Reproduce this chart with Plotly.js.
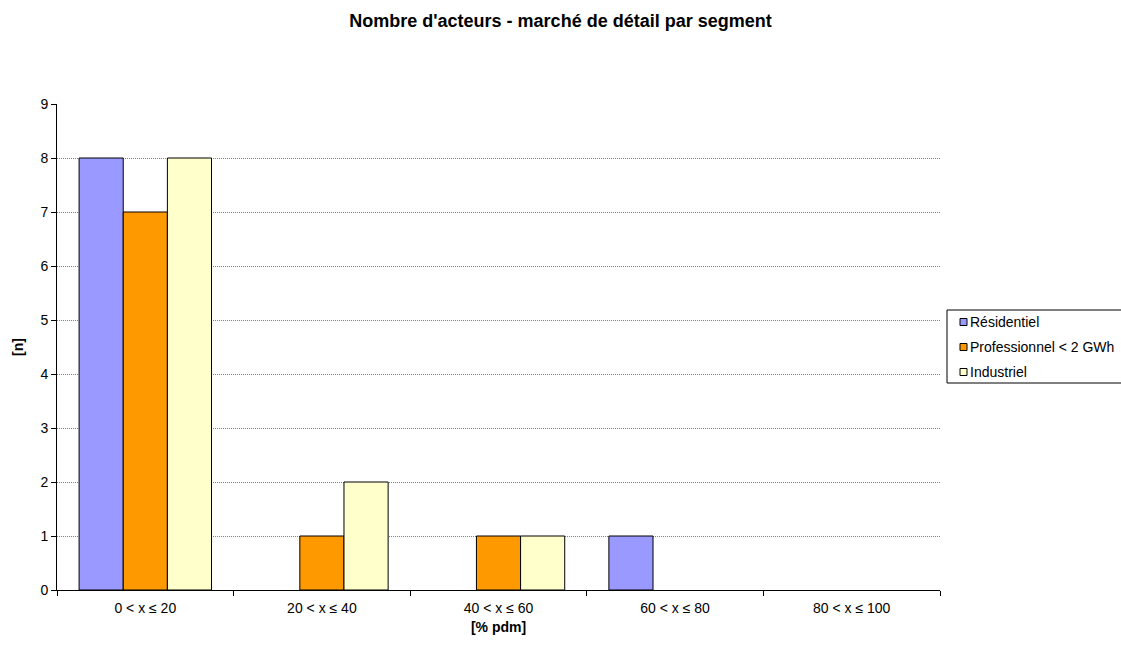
<!DOCTYPE html>
<html>
<head>
<meta charset="utf-8">
<script src="https://cdn.plot.ly/plotly-3.0.1.min.js"></script>
<style>
  html, body { margin: 0; padding: 0; background: #fff; }
  #chart { width: 1121px; height: 647px; }
</style>
</head>
<body>
<div id="chart"></div>
<script>
// Market-share bands (x categories)
const categories = ['0 < x ≤ 20', '20 < x ≤ 40', '40 < x ≤ 60', '60 < x ≤ 80', '80 < x ≤ 100'];

// Number of suppliers per band, per customer segment
const residentiel = [8, 0, 0, 1, 0];
const professionnel = [7, 1, 1, 0, 0];
const industriel = [8, 2, 1, 0, 0];

const seriesNames = ['Résidentiel', 'Professionnel < 2 GWh', 'Industriel'];
const seriesColors = ['#9999FF', '#FF9900', '#FFFFCC'];
const seriesValues = [residentiel, professionnel, industriel];

const font = 'Liberation Sans, Arial, sans-serif';

// Plot area in pixels, used to place the hand-drawn legend box
const W = 1121, H = 647;
const M = { l: 57, r: 181, t: 104, b: 57 };
const plotW = W - M.l - M.r, plotH = H - M.t - M.b;
const px = p => (p - M.l) / plotW;
const py = p => (H - M.b - p) / plotH;

const traces = seriesValues.map((vals, i) => ({
  type: 'bar',
  name: seriesNames[i],
  x: categories,
  y: vals,
  marker: {
    color: seriesColors[i],
    // empty bars get no outline so nothing shows on the axis
    line: { color: '#000', width: vals.map(v => (v > 0 ? 1 : 0)) }
  },
  hoverinfo: 'x+y+name'
}));

// Legend: framed box with small square keys
const legLeft = 947, legTop = 310, legBottom = 383;
const rowY = [322, 347, 372];
const shapes = [{
  type: 'rect', xref: 'paper', yref: 'paper',
  x0: px(legLeft), x1: px(W + 5), y0: py(legBottom), y1: py(legTop),
  line: { color: '#000', width: 1 }, fillcolor: '#fff', layer: 'above'
}];
const annotations = [];
seriesNames.forEach((name, i) => {
  shapes.push({
    type: 'rect', xref: 'paper', yref: 'paper',
    x0: px(960), x1: px(967), y0: py(rowY[i] + 3.5), y1: py(rowY[i] - 3.5),
    line: { color: '#000', width: 1 }, fillcolor: seriesColors[i], layer: 'above'
  });
  annotations.push({
    xref: 'paper', yref: 'paper', x: px(968), y: py(rowY[i]),
    xanchor: 'left', yanchor: 'middle', showarrow: false,
    text: name, font: { family: font, size: 14, color: '#000' }
  });
});

const layout = {
  width: W,
  height: H,
  paper_bgcolor: '#fff',
  plot_bgcolor: '#fff',
  margin: { l: M.l, r: M.r, t: M.t, b: M.b, pad: 0 },
  font: { family: font, size: 14, color: '#000' },
  title: {
    text: "<b>Nombre d'acteurs - marché de détail par segment</b>",
    font: { family: font, size: 18, color: '#000' },
    x: 0.5, xanchor: 'center', xref: 'container',
    y: 1 - 21 / H, yanchor: 'middle'
  },
  barmode: 'group',
  bargap: 0.25,
  bargroupgap: 0,
  showlegend: false,
  xaxis: {
    type: 'category',
    showline: true, linecolor: '#000', linewidth: 1,
    ticks: 'outside', tickson: 'boundaries', ticklen: 5, tickcolor: '#000',
    ticklabelstandoff: 5,
    showgrid: false, zeroline: false,
    tickfont: { family: font, size: 14 },
    title: { text: '<b>[% pdm]</b>', font: { family: font, size: 14 }, standoff: 7 }
  },
  yaxis: {
    range: [0, 9], dtick: 1,
    showline: true, linecolor: '#000', linewidth: 1,
    ticks: 'outside', ticklen: 5, tickcolor: '#000',
    showgrid: true, gridcolor: '#808080', gridwidth: 1, griddash: '1px,1px',
    zeroline: false,
    tickfont: { family: font, size: 14 },
    title: { text: '<b>[n]</b>', font: { family: font, size: 14 }, standoff: 13 }
  },
  shapes: shapes,
  annotations: annotations
};

Plotly.newPlot('chart', traces, layout, { displayModeBar: false, staticPlot: true });
</script>
</body>
</html>
